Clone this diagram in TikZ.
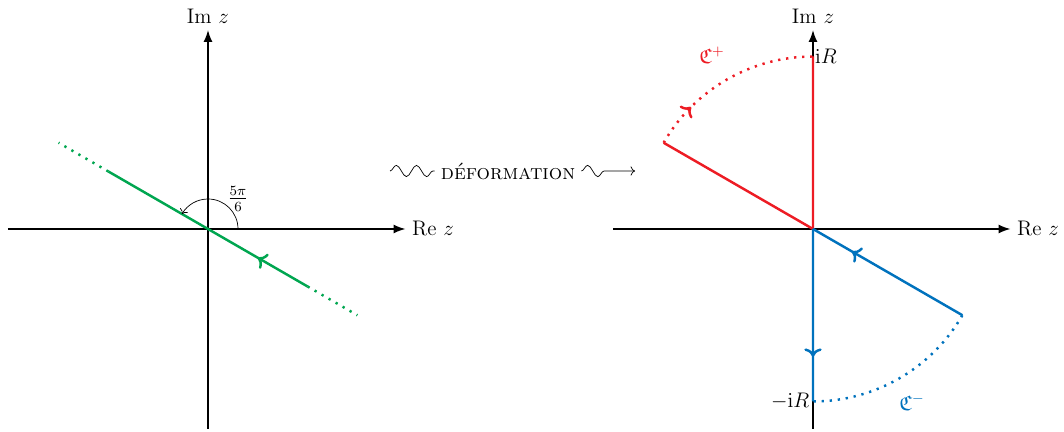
\documentclass[tikz,border=0pt]{standalone}
\usepackage{amsmath, amssymb}
\usetikzlibrary{arrows.meta,decorations.pathmorphing,decorations.markings}
\definecolor{contourgreen}{RGB}{0,166,80}
\definecolor{contourred}{RGB}{237,28,36}
\definecolor{contourblue}{RGB}{0,114,189}

\tikzset{
  axis/.style={line width=0.9pt,-{Latex[length=2.4mm,width=1.8mm]}},
  contour/.style={line width=1.4pt},
  dots/.style={line width=1.4pt,dash pattern=on 1.3pt off 3.3pt},
  midarrow/.style={postaction={decorate},
    decoration={markings,mark=at position #1 with {\arrow{>}}}},
  squig/.style={decorate,decoration={snake,segment length=11.5pt,amplitude=3.2pt}},
}

\begin{document}
\begin{tikzpicture}[font=\large]
        \useasboundingbox (-4.16,-4.06) rectangle (17.12,4.58);
        % Axes of both planes
        \foreach \ox/\nm in {0/L,12.1/R}{
          \coordinate (O\nm) at (\ox,0);
          \draw[axis] (\ox-4,0) -- (\ox+3.95,0) node[right] (re\nm) {Re $z$};
          \draw[axis] (\ox,-4) -- (\ox,3.98) node[above] (im\nm) {Im $z$};
        }

        % Line through the origin
        \coordinate (gA) at (150:2.3);
        \coordinate (gB) at (-30:2.3);
        \coordinate (gC) at (150:3.45);
        \coordinate (gD) at (-30:3.45);
        \draw[contour,contourgreen,midarrow=0.25] (gB) -- (gA);
        \draw[dots,contourgreen] (gA) -- (gC);
        \draw[dots,contourgreen] (gB) -- (gD);
        \draw[->] (0.6,0) arc[start angle=0,end angle=150,radius=0.6];
        \node (ang) at (0.6,0.6) {$\frac{5\pi}{6}$};

        % Deformation
        \coordinate (wL) at (3.64,1.16);
        \node (def) at (6.0,1.16) {\textsc{déformation}};
        \coordinate (wR) at (8.54,1.16);
        \draw[squig] (wL) -- (def);
        \draw[->,squig,decoration={post length=0.5cm}] (def) -- (wR);

        % Deformed contours
        \begin{scope}[xshift=12.1cm]
          \coordinate (P) at (150:3.45);
          \coordinate (iR) at (90:3.45);
          \coordinate (Q) at (-30:3.45);
          \coordinate (miR) at (-90:3.45);
          \draw[contour,contourred] (OR) -- (P);
          \draw[dots,contourred,midarrow=0.25] (P) arc[start angle=150,end angle=90,radius=3.45];
          \draw[contour,contourred] (iR) -- (OR);
          \draw[contour,contourblue,midarrow=0.74] (Q) -- (OR);
          \draw[dots,contourblue] (Q) arc[start angle=-30,end angle=-90,radius=3.45];
          \draw[contour,contourblue,midarrow=0.74] (OR) -- (miR);
          \node[right,inner sep=1pt] (lbliR) at (iR) {$\mathrm{i}R$};
          \node[left,inner sep=2pt] (lblmiR) at (miR) {$-\mathrm{i}R$};
          \node[contourred] (cplus) at (-2.02,3.48) {$\mathfrak{C}^+$};
          \node[contourblue] (cminus) at (1.98,-3.46) {$\mathfrak{C}^-$};
        \end{scope}
      \end{tikzpicture}
\end{document}
